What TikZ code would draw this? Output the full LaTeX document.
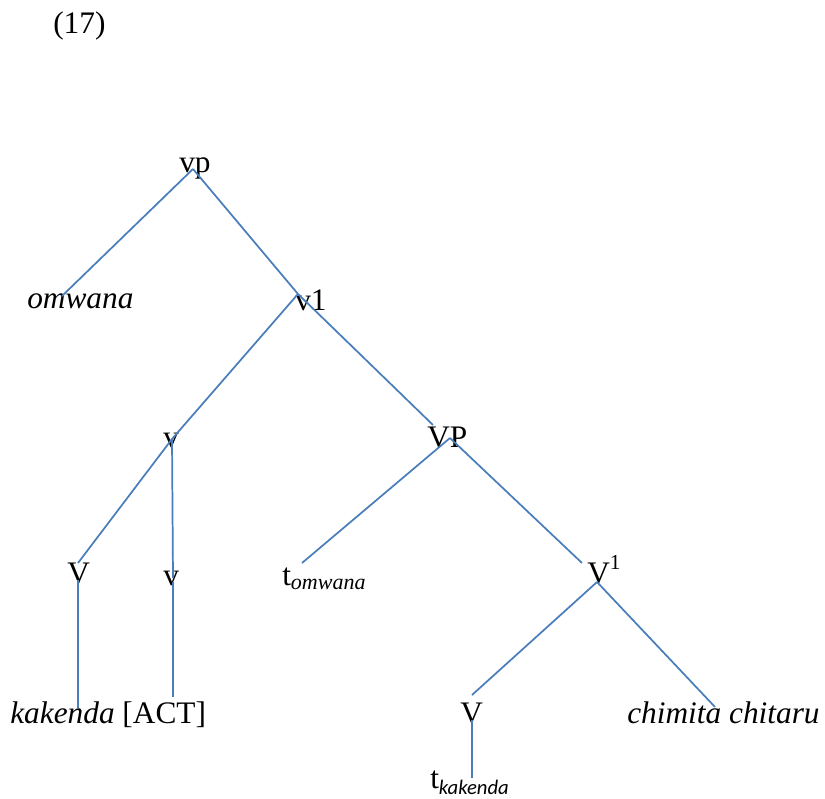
\documentclass[tikz,border=0pt]{standalone}
\usepackage{fontspec}
\setmainfont{Liberation Serif}
\newfontfamily\calib{Carlito}
\definecolor{branchblue}{HTML}{4A7EBB}
\tikzset{
    lbl/.style={anchor=base west, inner sep=0pt, font=\fontsize{23.5}{28}\selectfont},
    branch/.style={draw=branchblue, line width=1.3pt}
}
\newcommand{\omsub}{\raisebox{-3pt}{\fontsize{16.5}{18}\selectfont\itshape omwana}}
\newcommand{\kasub}{\raisebox{-5pt}{\fontsize{15.5}{18}\selectfont\calib\itshape kakenda}}
\begin{document}
\begin{tikzpicture}[x=0.75pt, y=-0.75pt]
        \useasboundingbox (0, 0) rectangle (825, 799);

        % Nodes
        \node[lbl] (Num) at (53, 34) {(17)};
        \node[lbl] (vp) at (179, 172) {vp};
        \node[lbl] (Omwana) at (27, 308) {\itshape omwana};
        \node[lbl] (vOne) at (295, 310) {v1};
        \node[lbl] (vHead) at (163, 447) {v};
        \node[lbl] (VP) at (427, 447) {VP};
        \node[lbl] (VLeft) at (67, 583) {V};
        \node[lbl] (vLow) at (163, 585) {v};
        \node[lbl] (TOmwana) at (282, 585) {t\omsub};
        \node[lbl] (VOne) at (587, 583) {V\raisebox{10pt}{\fontsize{16}{18}\selectfont 1}};
        \node[lbl] (Kakenda) at (10, 723) {\textit{kakenda} [ACT]};
        \node[lbl] (VLow) at (460, 723) {V};
        \node[lbl] (Chimita) at (627, 723) {\itshape chimita chitaru};
        \node[lbl] (TKakenda) at (430, 788) {t\kasub};

        % Line ends
        \coordinate (vpTop) at (193, 169);
        \coordinate (omwanaTop) at (62, 296);
        \coordinate (vOneTop) at (298, 294);
        \coordinate (VPIn) at (433, 425);
        \coordinate (vHeadTop) at (172, 439);
        \coordinate (VLeftTop) at (78, 563);
        \coordinate (vLowTop) at (173, 578);
        \coordinate (VLeftBot) at (78, 580);
        \coordinate (KakendaTop) at (78, 708);
        \coordinate (vLowBot) at (173, 582);
        \coordinate (ACTTop) at (173, 697);
        \coordinate (VPTop) at (450, 438);
        \coordinate (TOmwanaTop) at (302, 563);
        \coordinate (VOneIn) at (582, 563);
        \coordinate (VOneTop) at (597, 582);
        \coordinate (VLowTop) at (472, 695);
        \coordinate (ChimitaTop) at (715, 707);
        \coordinate (VLowBot) at (472, 720);
        \coordinate (TKakendaTop) at (472, 778);

        % Lines
        \draw[branch] (vpTop) -- (omwanaTop);
        \draw[branch] (vpTop) -- (vOneTop);
        \draw[branch] (vOneTop) -- (VPIn);
        \draw[branch] (vOneTop) -- (vHeadTop);
        \draw[branch] (vHeadTop) -- (VLeftTop);
        \draw[branch] (vHeadTop) -- (vLowTop);
        \draw[branch] (VLeftBot) -- (KakendaTop);
        \draw[branch] (vLowBot) -- (ACTTop);
        \draw[branch] (VPTop) -- (TOmwanaTop);
        \draw[branch] (VPTop) -- (VOneIn);
        \draw[branch] (VOneTop) -- (VLowTop);
        \draw[branch] (VOneTop) -- (ChimitaTop);
        \draw[branch] (VLowBot) -- (TKakendaTop);
    \end{tikzpicture}
\end{document}
